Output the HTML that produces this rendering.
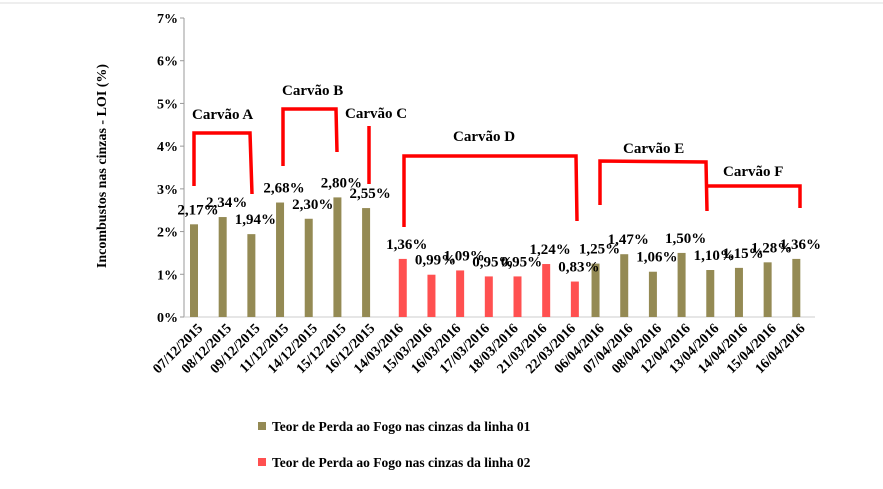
<!DOCTYPE html>
<html><head><meta charset="utf-8"><style>
body{margin:0;background:#fff;width:883px;height:484px;overflow:hidden;}
svg text{font-family:"Liberation Serif","Times New Roman",serif;font-weight:bold;}
</style></head><body>
<svg id="chart" width="883" height="484" xmlns="http://www.w3.org/2000/svg" font-family="Liberation Serif, serif">
<line x1="0" y1="3" x2="883" y2="3" stroke="#ddd"/>
<g id="axes"></g><g id="bars"></g><g id="labels"></g>
<g fill="none" stroke="#f00" stroke-width="3.5">
<polyline points="194,186 194,133 250,133 252,194"/>
<polyline points="283,166 283,109 336,109 337,152"/>
<polyline points="369,126 369,184"/>
<polyline points="404,227 404,156 576,156 577,221"/>
<polyline points="600,205 600,161 706,162 707,211"/>
<polyline points="707,186 800,186 800,208"/>
</g>
<g font-size="15">
<text x="192" y="119">Carvão A</text>
<text x="282" y="95">Carvão B</text>
<text x="345" y="118">Carvão C</text>
<text x="453" y="141">Carvão D</text>
<text x="623" y="153">Carvão E</text>
<text x="723" y="176">Carvão F</text>
</g>
<text transform="translate(106,166) rotate(-90)" text-anchor="middle" font-size="14">Incombustos nas cinzas - LOI (%)</text>
<g font-size="13.5">
<rect x="258" y="422" width="8" height="8" fill="#948a54"/>
<text x="272" y="431">Teor de Perda ao Fogo nas cinzas da linha 01</text>
<rect x="258" y="458" width="8" height="8" fill="#ff5050"/>
<text x="272" y="467">Teor de Perda ao Fogo nas cinzas da linha 02</text>
</g>
</svg>
<script>
const categories=["07/12/2015","08/12/2015","09/12/2015","11/12/2015","14/12/2015","15/12/2015","16/12/2015","14/03/2016","15/03/2016","16/03/2016","17/03/2016","18/03/2016","21/03/2016","22/03/2016","06/04/2016","07/04/2016","08/04/2016","12/04/2016","13/04/2016","14/04/2016","15/04/2016","16/04/2016"];
const values=[2.17,2.34,1.94,2.68,2.30,2.80,2.55,1.36,0.99,1.09,0.95,0.95,1.24,0.83,1.25,1.47,1.06,1.50,1.10,1.15,1.28,1.36];
const series=[1,1,1,1,1,1,1,2,2,2,2,2,2,2,1,1,1,1,1,1,1,1];
const yTicks=[0,1,2,3,4,5,6,7];
const NS="http://www.w3.org/2000/svg";
const L=184,R=815,T=18,B=317,yMax=7;
const sp=(R-L)/categories.length;
function x(i,s){return L+i*sp+(s==1?10:18);}
function y(v){return B-(v/yMax)*(B-T);}
function mk(t,a,p){const e=document.createElementNS(NS,t);for(const k in a)e.setAttribute(k,a[k]);p.appendChild(e);return e;}
const ax=document.getElementById('axes'),bg=document.getElementById('bars'),lg=document.getElementById('labels');
let l=mk('line',{x1:L,y1:T,x2:L,y2:B,stroke:'#999'},ax);


l=mk('line',{x1:L,y1:B,x2:R,y2:B,stroke:'#ccc'},ax);


yTicks.forEach(v=>{
 const t=mk('line',{x1:L-4,y1:y(v),x2:L,y2:y(v),stroke:'#999'},ax);
 
 
 const tx=mk('text',{x:L-6,y:y(v)+5,'text-anchor':'end','font-size':14},ax);
 tx.textContent=v+'%';
 
 
});
categories.forEach((c,i)=>{
 const cc=L+(i+0.5)*sp;
 const t=mk('text',{x:0,y:0,'text-anchor':'end','font-size':14,transform:`translate(${cc+5},${B+12}) rotate(-45)`},ax);
 t.textContent=c;
 
 
 const v=values[i],s=series[i],cx=x(i,s);
 const r=mk('rect',{x:cx-4,y:y(v),width:8,height:B-y(v),fill:s==1?'#948a54':'#ff5050'},bg);
 
 
 const lb=mk('text',{x:cx+4,y:y(v)-10,'text-anchor':'middle','font-size':15},lg);
 lb.textContent=v.toFixed(2).replace('.',',')+'%';
 
 
});
</script>
</body></html>
